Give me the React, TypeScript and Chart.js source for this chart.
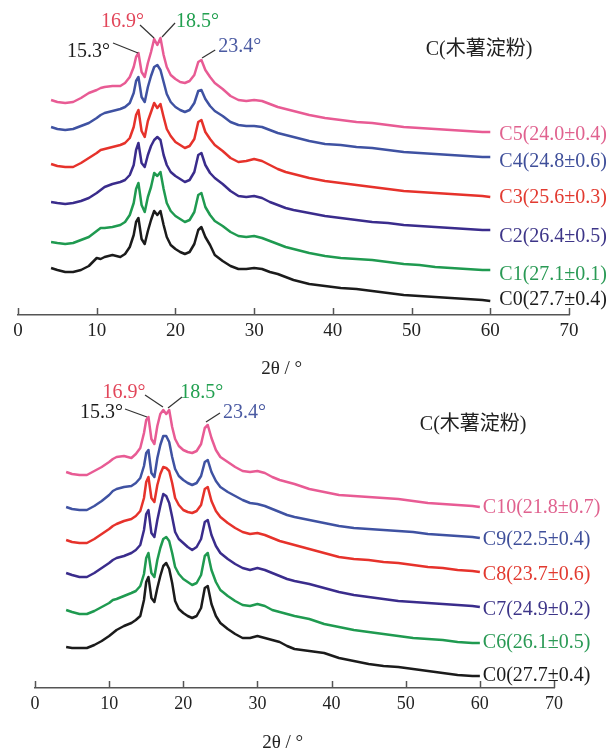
import { useEffect, useRef } from 'react';
import { Chart, registerables } from 'chart.js';

Chart.register(...registerables);

// 2θ sampling (degrees)
const thetaGrid = [4.2, 5, 6, 7, 8, 9, 10, 10.5, 11, 12, 13, 13.6, 14.2, 14.7, 15.0, 15.3, 15.7, 16.1, 16.5, 16.9, 17.3, 17.7, 18.1, 18.5, 18.9, 19.4, 20, 20.6, 21.2, 21.8, 22.4, 22.9, 23.3, 23.8, 24.4, 25, 26, 27, 28, 29, 30, 31, 32, 33, 34, 35, 37, 39, 41, 43, 45, 47, 49, 51, 53, 55, 57, 59, 60];

// Upper panel: stacked intensities (a.u., offset included)
const topC0 = [47, 45, 43, 43, 45, 49, 57, 56, 58, 60, 58, 61, 68, 80, 93, 97, 76, 71, 84, 95, 104, 100, 104, 90, 78, 70, 66, 63, 61, 63, 71, 85, 88, 78, 70, 60, 54, 49, 46, 46, 47, 46, 43, 41, 38, 35, 31, 29, 27, 26, 24, 22, 20, 19, 18, 17, 16, 15, 14];
const topC1 = [73, 72, 71, 72, 75, 78, 84, 87, 87, 88, 90, 93, 100, 112, 126, 132, 110, 103, 118, 128, 142, 139, 143, 126, 112, 104, 99, 96, 93, 95, 103, 120, 122, 108, 100, 94, 89, 83, 79, 78, 79, 77, 74, 71, 68, 66, 62, 59, 57, 56, 55, 53, 51, 50, 48, 47, 46, 45, 45];
const topC2 = [113, 112, 111, 112, 114, 117, 122, 125, 128, 131, 133, 135, 140, 150, 165, 172, 152, 148, 160, 169, 175, 178, 175, 160, 150, 143, 139, 136, 133, 135, 143, 160, 162, 150, 142, 137, 131, 124, 119, 118, 119, 117, 113, 110, 107, 105, 102, 99, 97, 95, 93, 92, 90, 89, 88, 87, 86, 85, 85];
const topC3 = [151, 149, 148, 148, 152, 157, 162, 165, 166, 168, 170, 172, 177, 188, 200, 205, 184, 178, 194, 203, 212, 207, 211, 198, 186, 179, 173, 170, 167, 169, 176, 193, 195, 183, 176, 170, 164, 157, 153, 154, 156, 154, 150, 146, 143, 141, 137, 134, 132, 130, 128, 126, 124, 123, 122, 121, 120, 119, 118];
const topC4 = [188, 186, 185, 186, 189, 192, 197, 200, 202, 204, 206, 208, 212, 222, 234, 238, 218, 213, 228, 239, 248, 250, 245, 233, 221, 213, 208, 205, 203, 205, 212, 224, 225, 216, 209, 204, 199, 193, 190, 189, 189, 188, 185, 182, 180, 178, 174, 171, 170, 168, 167, 165, 163, 162, 161, 160, 159, 158, 158];
const topC5 = [215, 213, 212, 213, 217, 222, 225, 227, 228, 229, 229, 232, 238, 248, 258, 262, 243, 238, 252, 263, 276, 270, 277, 260, 248, 240, 236, 233, 232, 234, 240, 253, 255, 245, 238, 232, 226, 219, 215, 214, 215, 214, 211, 208, 206, 204, 200, 197, 195, 193, 192, 190, 188, 187, 186, 185, 184, 183, 183];

// Lower panel
const botC0 = [41, 40, 40, 40, 43, 47, 52, 55, 58, 62, 65, 68, 72, 88, 106, 111, 90, 86, 100, 112, 122, 125, 119, 105, 87, 79, 75, 72, 70, 72, 80, 100, 102, 84, 72, 65, 59, 54, 50, 50, 52, 50, 48, 46, 42, 39, 37, 35, 30, 27, 24, 22, 21, 19, 17, 15, 13, 12, 12];
const botC6 = [78, 76, 74, 74, 77, 81, 85, 88, 89, 92, 95, 97, 102, 114, 130, 135, 115, 111, 128, 140, 149, 151, 147, 135, 121, 114, 109, 106, 103, 105, 113, 132, 135, 118, 106, 98, 92, 87, 83, 82, 84, 82, 78, 76, 74, 72, 69, 64, 61, 58, 56, 54, 52, 50, 49, 48, 46, 45, 45];
const botC7 = [115, 113, 111, 111, 115, 120, 125, 128, 130, 132, 135, 138, 143, 158, 174, 178, 155, 151, 168, 182, 194, 192, 185, 171, 156, 149, 145, 141, 138, 141, 149, 166, 168, 153, 142, 135, 129, 124, 120, 118, 120, 118, 115, 112, 109, 107, 104, 100, 96, 93, 91, 89, 87, 86, 85, 84, 83, 82, 81];
const botC8 = [148, 146, 145, 145, 149, 154, 159, 162, 164, 167, 169, 172, 177, 190, 206, 211, 190, 186, 203, 214, 221, 220, 217, 205, 190, 183, 178, 176, 175, 177, 183, 199, 201, 187, 177, 171, 165, 160, 156, 154, 155, 153, 150, 147, 145, 143, 139, 135, 131, 129, 128, 126, 125, 123, 121, 120, 118, 117, 116];
const botC9 = [181, 179, 178, 178, 182, 187, 193, 197, 199, 201, 202, 205, 210, 222, 235, 238, 215, 211, 230, 243, 252, 252, 246, 231, 219, 212, 208, 205, 203, 205, 212, 226, 228, 216, 207, 201, 196, 192, 188, 185, 184, 182, 179, 176, 173, 171, 168, 165, 162, 160, 159, 158, 157, 156, 154, 153, 152, 151, 150];
const botC10 = [216, 214, 213, 213, 217, 221, 226, 229, 231, 232, 230, 234, 240, 255, 268, 271, 249, 244, 262, 274, 278, 274, 278, 261, 249, 242, 238, 236, 235, 237, 244, 260, 263, 250, 238, 231, 226, 221, 217, 216, 217, 215, 211, 208, 206, 204, 199, 196, 193, 192, 191, 190, 189, 187, 185, 184, 183, 182, 181];

const topNames = ['C0(27.7±0.4)', 'C1(27.1±0.1)', 'C2(26.4±0.5)', 'C3(25.6±0.3)', 'C4(24.8±0.6)', 'C5(24.0±0.4)'];
const botNames = ['C0(27.7±0.4)', 'C6(26.1±0.5)', 'C7(24.9±0.2)', 'C8(23.7±0.6)', 'C9(22.5±0.4)', 'C10(21.8±0.7)'];
const topLabelY = [15, 40, 78, 117, 153, 180];
const botLabelY = [12, 45, 78, 113, 148, 180];

const tickValues = [0, 10, 20, 30, 40, 50, 60, 70];
const peakTexts = ['15.3°', '16.9°', '18.5°', '23.4°'];
const panelTitle = 'C(木薯淀粉)';
const axisTitle = '2θ / °';

const lineColors = ['#1b1b1b', '#1f9a50', '#3a2c8c', '#e6322b', '#3f52a2', '#e85b94'];
const labelColors = ['#1b1b1b', '#2a9a55', '#3d3588', '#e23a30', '#3f4f9a', '#e0628f'];
const peakColors = ['#1b1b1b', '#e2465a', '#22a050', '#4a5aa2'];

const FONT = '"Liberation Serif", "Times New Roman", "Noto Sans CJK SC", serif';

type PeakSpec = { x: number; y: number; align: CanvasTextAlign; line: [number, number, number, number] };

type Panel = {
  width: number;
  height: number;
  axisHeight: number;
  padLeft: number;
  padRight: number;
  yMax: number;
  series: number[][];
  names: string[];
  labelY: number[];
  labelGap: number;
  labelSize: number;
  tickSize: number;
  peaks: PeakSpec[];
  title: { x: number; y: number };
};

const topPanel: Panel = {
  width: 614,
  height: 380,
  axisHeight: 65,
  padLeft: 18,
  padRight: 45,
  yMax: 315,
  series: [topC0, topC1, topC2, topC3, topC4, topC5],
  names: topNames,
  labelY: topLabelY,
  labelGap: 9,
  labelSize: 20,
  tickSize: 19,
  peaks: [
    { x: 11.69, y: 263, align: 'right', line: [12.07, 272, 15.25, 262] },
    { x: 13.28, y: 293, align: 'center', line: [15.5, 290, 17.28, 277] },
    { x: 22.8, y: 293, align: 'center', line: [19.95, 292, 18.3, 278] },
    { x: 25.45, y: 268, align: 'left', line: [25.05, 265, 23.38, 257] },
  ],
  title: { x: 51.8, y: 265 },
};

const botPanel: Panel = {
  width: 614,
  height: 374,
  axisHeight: 66,
  padLeft: 35,
  padRight: 60,
  yMax: 308,
  series: [botC0, botC6, botC7, botC8, botC9, botC10],
  names: botNames,
  labelY: botLabelY,
  labelGap: 3,
  labelSize: 20,
  tickSize: 18,
  peaks: [
    { x: 11.87, y: 275, align: 'right', line: [12.14, 279, 15.1, 271] },
    { x: 12.0, y: 295, align: 'center', line: [14.84, 293, 17.26, 281] },
    { x: 22.5, y: 295, align: 'center', line: [19.83, 291, 17.94, 280] },
    { x: 25.35, y: 275, align: 'left', line: [24.95, 275, 23.06, 266] },
  ],
  title: { x: 51.9, y: 263 },
};

function overlayPlugin(p: Panel) {
  return {
    id: 'overlay',
    afterDraw(chart: any) {
      const { ctx, chartArea } = chart;
      const xs = chart.scales.x;
      const ys = chart.scales.y;
      ctx.save();
      // inward tick marks
      ctx.strokeStyle = '#555';
      ctx.lineWidth = 1.5;
      for (const v of tickValues) {
        const px = Math.round(xs.getPixelForValue(v)) + 0.5;
        ctx.beginPath();
        ctx.moveTo(px, chartArea.bottom);
        ctx.lineTo(px, chartArea.bottom - 7);
        ctx.stroke();
      }
      // series labels
      ctx.textBaseline = 'middle';
      ctx.textAlign = 'left';
      ctx.font = `${p.labelSize}px ${FONT}`;
      const lastX = thetaGrid[thetaGrid.length - 1];
      p.names.forEach((n, i) => {
        ctx.fillStyle = labelColors[i];
        ctx.fillText(n, xs.getPixelForValue(lastX) + p.labelGap, ys.getPixelForValue(p.labelY[i]));
      });
      // peak labels with leader lines
      ctx.strokeStyle = '#333';
      ctx.lineWidth = 1.2;
      p.peaks.forEach((pk, i) => {
        const [x1, y1, x2, y2] = pk.line;
        ctx.beginPath();
        ctx.moveTo(xs.getPixelForValue(x1), ys.getPixelForValue(y1));
        ctx.lineTo(xs.getPixelForValue(x2), ys.getPixelForValue(y2));
        ctx.stroke();
        ctx.fillStyle = peakColors[i];
        ctx.textAlign = pk.align;
        ctx.fillText(peakTexts[i], xs.getPixelForValue(pk.x), ys.getPixelForValue(pk.y));
      });
      // panel title
      ctx.fillStyle = '#222';
      ctx.textAlign = 'left';
      ctx.fillText(panelTitle, xs.getPixelForValue(p.title.x), ys.getPixelForValue(p.title.y));
      ctx.restore();
    },
  };
}

function makeChart(canvas: HTMLCanvasElement, p: Panel) {
  const datasets = p.series.map((s, i) => ({
    label: p.names[i],
    data: s.map((v, j) => ({ x: thetaGrid[j], y: v })),
    borderColor: lineColors[i],
    backgroundColor: lineColors[i],
    borderWidth: 2.5,
    pointRadius: 0,
    tension: 0,
    fill: false,
    borderJoinStyle: 'round' as const,
  }));
  return new Chart(canvas, {
    type: 'line',
    data: { datasets },
    options: {
      animation: false,
      responsive: false,
      devicePixelRatio: 1,
      layout: { padding: { left: p.padLeft, right: p.padRight, top: 0, bottom: 0 } },
      plugins: { legend: { display: false }, tooltip: { enabled: false } },
      scales: {
        x: {
          type: 'linear',
          min: 0,
          max: 70,
          afterFit: (scale: any) => {
            scale.height = p.axisHeight;
          },
          grid: { display: false, drawTicks: false },
          border: { display: true, color: '#555', width: 1.5 },
          ticks: {
            stepSize: 10,
            padding: 5,
            color: '#222',
            font: { family: FONT, size: p.tickSize },
          },
          title: {
            display: true,
            text: axisTitle + '\u00a0\u00a0\u00a0\u00a0\u00a0',
            color: '#222',
            font: { family: FONT, size: 19 },
            padding: 0,
          },
        },
        y: { display: false, min: 0, max: p.yMax },
      },
    },
    plugins: [overlayPlugin(p)],
  });
}

export default function App() {
  const topRef = useRef<HTMLCanvasElement>(null);
  const botRef = useRef<HTMLCanvasElement>(null);
  useEffect(() => {
    const c1 = makeChart(topRef.current!, topPanel);
    const c2 = makeChart(botRef.current!, botPanel);
    return () => {
      c1.destroy();
      c2.destroy();
    };
  }, []);
  return (
    <div style={{ position: 'fixed', left: 0, top: 0, width: 614, height: 749, overflow: 'hidden', background: '#fff' }}>
      <canvas ref={topRef} width={614} height={380} style={{ position: 'absolute', left: 0, top: 0 }} />
      <canvas ref={botRef} width={614} height={374} style={{ position: 'absolute', left: 0, top: 380 }} />
    </div>
  );
}
